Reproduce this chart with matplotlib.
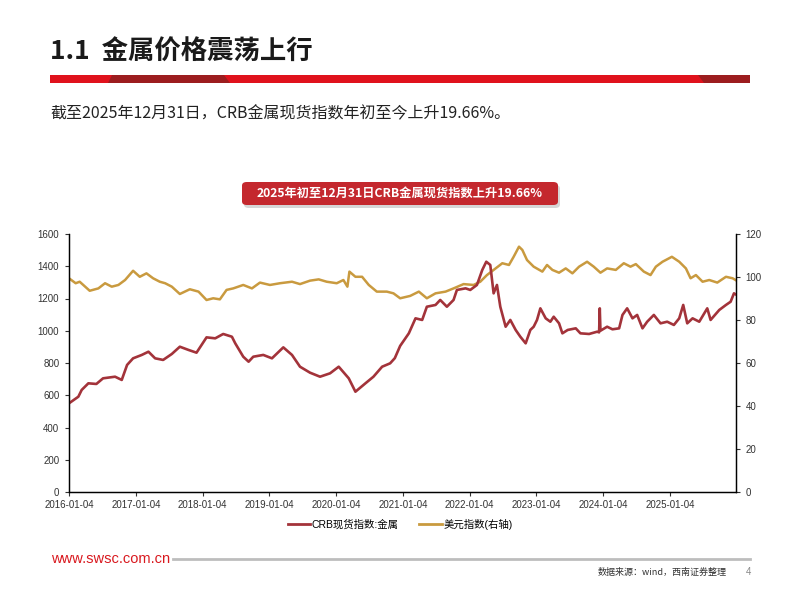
import matplotlib
matplotlib.use("Agg")
import matplotlib.pyplot as plt
from matplotlib.patches import FancyBboxPatch, Polygon, Rectangle
from matplotlib.lines import Line2D
import pandas as pd

plt.rcParams['font.family'] = ['Liberation Sans', 'Noto Sans CJK SC', 'DejaVu Sans']

# ---------------- data (decimal years, 2016.0 = 2016-01-04) ----------------
crb_t = [2016.00, 2016.14, 2016.19, 2016.29, 2016.41, 2016.51, 2016.69, 2016.79, 2016.87, 2016.96,
         2017.09, 2017.19, 2017.29, 2017.41, 2017.54, 2017.66, 2017.79, 2017.91, 2018.06, 2018.19,
         2018.31, 2018.44, 2018.49, 2018.61, 2018.69, 2018.76, 2018.91, 2019.04, 2019.21, 2019.34,
         2019.46, 2019.61, 2019.76, 2019.91, 2020.04, 2020.19, 2020.29, 2020.44, 2020.56, 2020.69,
         2020.81, 2020.88, 2020.96, 2021.09, 2021.19, 2021.29, 2021.36, 2021.49, 2021.56, 2021.66,
         2021.76, 2021.81, 2021.94, 2022.01, 2022.11, 2022.19, 2022.25, 2022.31, 2022.36, 2022.41,
         2022.46, 2022.54, 2022.61, 2022.69, 2022.76, 2022.84, 2022.91, 2022.96, 2023.01, 2023.06,
         2023.14, 2023.21, 2023.26, 2023.34, 2023.39, 2023.47, 2023.59, 2023.66, 2023.79, 2023.91,
         2023.94, 2023.95, 2023.96, 2024.06, 2024.14, 2024.24, 2024.29, 2024.36, 2024.44, 2024.51,
         2024.59, 2024.66, 2024.76, 2024.86, 2024.96, 2025.06, 2025.14, 2025.20, 2025.26, 2025.34,
         2025.44, 2025.56, 2025.61, 2025.74, 2025.84, 2025.91, 2025.96, 2026.00]
crb_v = [550, 591, 633, 674, 670, 705, 715, 695, 788, 829,
         850, 870, 829, 819, 856, 901, 881, 864, 959, 953,
         980, 963, 922, 839, 808, 839, 850, 829, 897, 850,
         777, 740, 715, 736, 777, 705, 622, 674, 715, 777,
         798, 830, 906, 984, 1077, 1067, 1149, 1160, 1191, 1149,
         1191, 1253, 1263, 1253, 1284, 1377, 1428, 1408, 1232, 1284,
         1149, 1025, 1067, 1005, 963, 922, 1005, 1025, 1067, 1139,
         1077, 1056, 1087, 1046, 984, 1005, 1015, 984, 980, 994,
         990, 1139, 1000, 1025, 1009, 1015, 1098, 1139, 1077, 1098,
         1015, 1056, 1098, 1046, 1056, 1036, 1077, 1160, 1046, 1077,
         1056, 1139, 1067, 1129, 1160, 1180, 1232, 1222]

usd_t = [2016.00, 2016.10, 2016.16, 2016.31, 2016.44, 2016.54, 2016.64, 2016.74, 2016.84, 2016.96,
         2017.06, 2017.16, 2017.26, 2017.36, 2017.44, 2017.54, 2017.66, 2017.81, 2017.94, 2018.06,
         2018.16, 2018.26, 2018.36, 2018.46, 2018.61, 2018.74, 2018.86, 2019.01, 2019.16, 2019.34,
         2019.46, 2019.61, 2019.74, 2019.86, 2020.01, 2020.11, 2020.17, 2020.20, 2020.29, 2020.39,
         2020.49, 2020.61, 2020.76, 2020.86, 2020.96, 2021.11, 2021.24, 2021.36, 2021.49, 2021.64,
         2021.76, 2021.91, 2022.06, 2022.16, 2022.26, 2022.39, 2022.49, 2022.59, 2022.66, 2022.74,
         2022.79, 2022.86, 2022.96, 2023.09, 2023.16, 2023.24, 2023.34, 2023.44, 2023.54, 2023.64,
         2023.76, 2023.86, 2023.96, 2024.06, 2024.19, 2024.31, 2024.41, 2024.49, 2024.61, 2024.71,
         2024.79, 2024.89, 2025.03, 2025.14, 2025.24, 2025.31, 2025.39, 2025.49, 2025.59, 2025.71,
         2025.84, 2025.94, 2026.00]
usd_v = [99.4, 97.1, 97.8, 93.6, 94.7, 97.1, 95.5, 96.3, 98.6, 102.9,
         100.1, 101.7, 99.4, 97.8, 97.1, 95.5, 92.1, 94.3, 93.2, 89.3,
         90.1, 89.6, 94.0, 94.7, 96.3, 94.7, 97.4, 96.3, 97.1, 97.8,
         96.7, 98.3, 98.9, 97.8, 97.1, 98.6, 95.5, 102.5, 100.1, 100.1,
         96.3, 93.2, 93.2, 92.4, 90.1, 91.2, 93.2, 90.1, 92.4, 93.2,
         94.7, 96.7, 96.3, 97.8, 100.9, 104.0, 106.4, 105.6, 109.4, 114.1,
         112.6, 107.9, 104.8, 102.5, 105.6, 103.3, 102.0, 104.0, 101.7, 104.8,
         107.1, 104.8, 102.0, 104.0, 103.3, 106.4, 104.8, 106.0, 102.5, 100.9,
         104.8, 107.1, 109.4, 107.1, 104.0, 99.4, 100.9, 97.8, 98.6, 97.4,
         100.1, 99.4, 98.3]

tick_labels = ['2016-01-04', '2017-01-04', '2018-01-04', '2019-01-04', '2020-01-04',
               '2021-01-04', '2022-01-04', '2023-01-04', '2024-01-04', '2025-01-04']
left_ticks = [0, 200, 400, 600, 800, 1000, 1200, 1400, 1600]
right_ticks = [0, 20, 40, 60, 80, 100, 120]

label_crb = 'CRB现货指数:金属'
label_usd = '美元指数(右轴)'

base = pd.Timestamp('2016-01-04')
def to_dates(ts):
    return [base + pd.to_timedelta((t - 2016.0) * 365.25, unit='D') for t in ts]

crb_d = to_dates(crb_t)
usd_d = to_dates(usd_t)

RED = '#A3333A'
GOLD = '#C99A3F'

fig = plt.figure(figsize=(8, 6), dpi=100)
fig.patch.set_facecolor('white')

# ---------------- header ----------------
fig.text(50/800, 1 - 52/600, '1.1  金属价格震荡上行', fontsize=19, fontweight='bold',
         family=['Noto Sans CJK SC', 'DejaVu Sans'], color='#1a1a1a', va='center', ha='left')

y0, y1 = 1 - 83/600, 1 - 75/600
fig.patches.append(Rectangle((50/800, y0), 700/800, y1 - y0, transform=fig.transFigure,
                             facecolor='#E0121C', edgecolor='none'))
fig.patches.append(Polygon([(108/800, y0), (230/800, y0), (224/800, y1), (112/800, y1)],
                           closed=True, transform=fig.transFigure, facecolor='#9C1D1F', edgecolor='none'))
fig.patches.append(Polygon([(704/800, y0), (750/800, y0), (750/800, y1), (698/800, y1)],
                           closed=True, transform=fig.transFigure, facecolor='#9C1D1F', edgecolor='none'))

fig.text(50/800, 1 - 114/600, '截至2025年12月31日，CRB金属现货指数年初至今上升19.66%。',
         fontsize=11.5, family=['Noto Sans CJK SC', 'DejaVu Sans'], color='#222222',
         va='center', ha='left')

fig.patches.append(FancyBboxPatch((244/800, 1 - 208/600), 316/800, 23/600,
                                  boxstyle='round,pad=0,rounding_size=0.006',
                                  transform=fig.transFigure, facecolor='#BBBBBB',
                                  edgecolor='none', alpha=0.6))
fig.patches.append(FancyBboxPatch((242/800, 1 - 205/600), 316/800, 23/600,
                                  boxstyle='round,pad=0,rounding_size=0.006',
                                  transform=fig.transFigure, facecolor='#C4282E',
                                  edgecolor='none'))
fig.text(400/800, 1 - 193.5/600, '2025年初至12月31日CRB金属现货指数上升19.66%',
         fontsize=8.8, fontweight='bold', family=['Noto Sans CJK SC', 'DejaVu Sans'],
         color='white', va='center', ha='center')

# ---------------- chart ----------------
ax = fig.add_axes([69/800, 1 - 492/600, (736 - 69)/800, (492 - 234)/600])
ax2 = ax.twinx()
ax.set_zorder(ax2.get_zorder() + 1)
ax.patch.set_visible(False)

ax2.plot(usd_d, usd_v, color=GOLD, lw=1.8, solid_joinstyle='round')
ax.plot(crb_d, crb_v, color=RED, lw=1.9, solid_joinstyle='round')

ax.set_ylim(0, 1600)
ax2.set_ylim(0, 120)
ax.set_yticks(left_ticks)
ax2.set_yticks(right_ticks)
ax.set_xlim(pd.Timestamp('2016-01-04'), pd.Timestamp('2025-12-31'))
ax.set_xticks([pd.Timestamp(s) for s in tick_labels])
ax.set_xticklabels(tick_labels)

for a in (ax, ax2):
    a.spines['top'].set_visible(False)
    for s in ('left', 'right', 'bottom'):
        a.spines[s].set_color('black')
        a.spines[s].set_linewidth(0.9)
    a.tick_params(labelsize=7, colors='#333333', length=3, width=0.8, direction='out')

ax.tick_params(axis='x', pad=3)
ax.tick_params(axis='y', pad=4)
ax2.tick_params(axis='y', pad=4)

handles = [Line2D([0], [0], color=RED, lw=2), Line2D([0], [0], color=GOLD, lw=2)]
fig.legend(handles, [label_crb, label_usd], loc='center', bbox_to_anchor=(400/800, 1 - 524/600),
           ncol=2, frameon=False, handlelength=2.2, handletextpad=0.1,
           columnspacing=2.0, prop={'family': ['Liberation Sans', 'Noto Sans CJK SC'], 'size': 7.5})

# ---------------- footer ----------------
fig.text(51/800, 1 - 559/600, 'www.swsc.com.cn', fontsize=10.5, color='#D9191F',
         va='center', ha='left', family=['Liberation Sans'])
fig.lines.append(Line2D([173/800, 750/800], [1 - 559/600, 1 - 559/600],
                        transform=fig.transFigure, color='#BDBDBD', lw=2))
fig.text(727/800, 1 - 572/600, '数据来源：wind，西南证券整理', fontsize=6.5, color='#333333',
         va='center', ha='right', family=['Noto Sans CJK SC', 'DejaVu Sans'])
fig.text(749/800, 1 - 572/600, '4', fontsize=7, color='#888888', va='center', ha='center')

fig.savefig('out.png', dpi=100)
